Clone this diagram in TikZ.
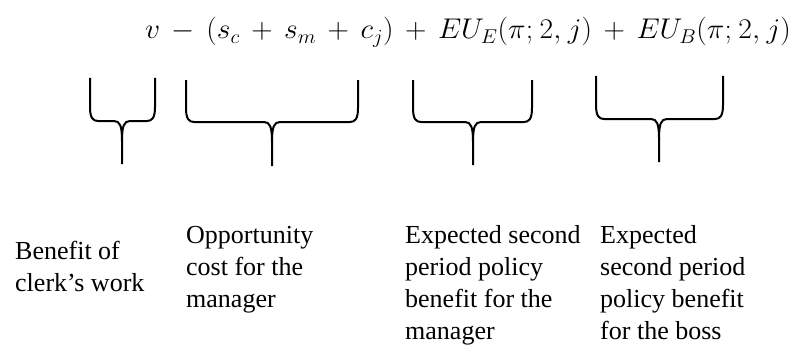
\RequirePackage{fix-cm}
\documentclass[tikz,border=0pt]{standalone}
\usepackage{graphicx}
\usepackage{fontspec}
\setmainfont{Liberation Serif}
\newcommand\lblfont{\fontsize{26}{32}\selectfont}
\newcommand\eqfont{\fontsize{28.5}{34}\selectfont\medmuskip=7mu plus 2mu minus 2mu\thinmuskip=4mu}
\begin{document}
\begin{tikzpicture}[x=1pt,y=-1pt,
  lbl/.style={anchor=base west,inner sep=0pt,font=\lblfont},
  brace/.style={line width=2pt,line join=round}]
\useasboundingbox (0,0) rectangle (795,345);
% equation
\node[anchor=base west,inner sep=0pt,font=\eqfont] (eq) at (145,39)
  {\scalebox{1.04}[1]{$v-\bigl(s_c+s_m+c_j\bigr)+EU_E(\pi;2,j)+EU_B(\pi;2,j)$}};
% braces: left, right, top, horizontal, centre, tip
\newcommand\bracepath[6]{%
  \draw[brace] (#1,#3) -- (#1,#4-14) .. controls (#1,#4-3) and (#1+3,#4) .. (#1+8,#4)
     -- (#5-8,#4) .. controls (#5-2,#4) and (#5,#4+5) .. (#5,#4+20) -- (#5,#6);
  \draw[brace] (#2,#3) -- (#2,#4-14) .. controls (#2,#4-3) and (#2-3,#4) .. (#2-8,#4)
     -- (#5+8,#4) .. controls (#5+2,#4) and (#5,#4+5) .. (#5,#4+20);}
\bracepath{90}{155}{78}{121}{122}{164}
\bracepath{186}{358}{80}{122}{272}{166}
\bracepath{413}{532}{80}{122}{473}{165}
\bracepath{596}{723}{76}{119}{659}{162}
% column 1
\node[lbl] (a1) at (15,259) {Benefit of};
\node[lbl] (a2) at (15,291) {clerk’s work};
% column 2
\node[lbl] (b1) at (186,243) {Opportunity};
\node[lbl] (b2) at (186,275) {cost for the};
\node[lbl] (b3) at (186,307) {manager};
% column 3
\node[lbl] (c1) at (405,243) {Expected second};
\node[lbl] (c2) at (405,275) {period policy};
\node[lbl] (c3) at (405,307) {benefit for the};
\node[lbl] (c4) at (405,339) {manager};
% column 4
\node[lbl] (d1) at (600,243) {Expected};
\node[lbl] (d2) at (600,275) {second period};
\node[lbl] (d3) at (600,307) {policy benefit};
\node[lbl] (d4) at (600,339) {for the boss};
\end{tikzpicture}
\end{document}
